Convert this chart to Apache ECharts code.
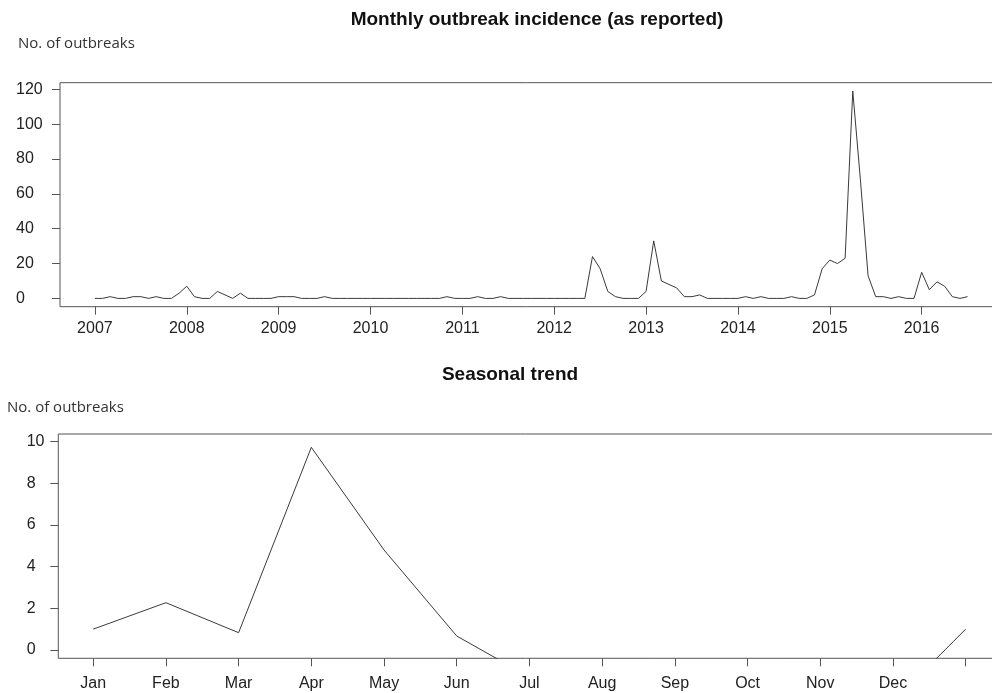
<!DOCTYPE html>
<html>
<head>
<meta charset="utf-8">
<title>Outbreak incidence</title>
<script src="https://cdn.jsdelivr.net/npm/echarts@6/dist/echarts.min.js"></script>
<style>
  html, body { margin: 0; padding: 0; background: #fff; }
  #chart { width: 992px; height: 693px; }
</style>
</head>
<body>
<div id="chart"></div>
<script>
// 月度数据：2007年1月起，共115个月
const startYear = 2007;
const monthlyOutbreaks = [
  0, 0, 1, 0, 0, 1, 1, 0, 1, 0, 0, 3,        // 2007
  7, 1, 0, 0, 4, 2, 0, 3, 0, 0, 0, 0,        // 2008
  1, 1, 1, 0, 0, 0, 1, 0, 0, 0, 0, 0,        // 2009
  0, 0, 0, 0, 0, 0, 0, 0, 0, 0, 1, 0,        // 2010
  0, 0, 1, 0, 0, 1, 0, 0, 0, 0, 0, 0,        // 2011
  0, 0, 0, 0, 0, 24, 17, 4, 1, 0, 0, 0,      // 2012
  4, 33, 10, 8, 6, 1, 1, 2, 0, 0, 0, 0,      // 2013
  0, 1, 0, 1, 0, 0, 0, 1, 0, 0, 2, 17,       // 2014
  22, 20, 23, 119, 68, 13, 1, 1, 0, 1, 0, 0, // 2015
  15, 5, 9.5, 7, 1, 0, 1                     // 2016
];
const yearTicks = [2007, 2008, 2009, 2010, 2011, 2012, 2013, 2014, 2015, 2016];
const topYTicks = [0, 20, 40, 60, 80, 100, 120];

// 季节趋势（第13个点回到1月）
const monthLabels = ["Jan", "Feb", "Mar", "Apr", "May", "Jun", "Jul", "Aug", "Sep", "Oct", "Nov", "Dec", ""];
const seasonalValues = [1.0, 2.27, 0.83, 9.73, 4.8, 0.67, -1.3, -2.2, -2.6, -2.8, -2.7, -2.5, 1.0];
const bottomYTicks = [0, 2, 4, 6, 8, 10];

const chart = echarts.init(document.getElementById("chart"));

const topData = monthlyOutbreaks.map((v, i) => [startYear + i / 12, v]);
const seasonalData = seasonalValues.map((v, i) => [i + 1, v]);
const monthPositions = monthLabels.map((m, i) => i + 1);

const axisFont = { fontFamily: "Liberation Sans", fontSize: 16, color: "#222" };
const tickStyle = { show: true, inside: false, length: 8, lineStyle: { color: "#555", width: 1 } };

const option = {
  animation: false,
  backgroundColor: "#fff",
  graphic: [
    {
      type: "text", x: 537, y: 20,
      style: { text: "Monthly outbreak incidence (as reported)", font: "bold 19px 'Liberation Sans'", fill: "#111", align: "center", verticalAlign: "middle" },
    },
    {
      type: "text", x: 18, y: 44,
      style: { text: "No. of outbreaks", font: "15px 'Open Sans'", fill: "#333", align: "left", verticalAlign: "middle" },
    },
    {
      type: "text", x: 510, y: 375,
      style: { text: "Seasonal trend", font: "bold 19px 'Liberation Sans'", fill: "#111", align: "center", verticalAlign: "middle" },
    },
    {
      type: "text", x: 7, y: 408,
      style: { text: "No. of outbreaks", font: "15px 'Open Sans'", fill: "#333", align: "left", verticalAlign: "middle" },
    },
  ],
  grid: [
    { left: 60, top: 82.7, width: 942.5, height: 224, show: true, borderColor: "#555", borderWidth: 1, outerBoundsMode: "none" },
    { left: 58.3, top: 434, width: 942.3, height: 224.3, show: true, borderColor: "#555", borderWidth: 1, outerBoundsMode: "none" },
  ],
  xAxis: [
    {
      type: "value", gridIndex: 0, min: 2006.62, max: 2016.88,
      axisLine: { show: false, onZero: false },
      axisTick: Object.assign({ customValues: yearTicks }, tickStyle),
      axisLabel: Object.assign({ customValues: yearTicks, margin: 14, formatter: (v) => String(v) }, axisFont),
      splitLine: { show: false },
    },
    {
      type: "value", gridIndex: 1, min: 0.52, max: 13.48,
      axisLine: { show: false, onZero: false },
      axisTick: Object.assign({ customValues: monthPositions }, tickStyle),
      axisLabel: Object.assign({ customValues: monthPositions, margin: 17, formatter: (v) => monthLabels[Math.round(v) - 1] || "" }, axisFont),
      splitLine: { show: false },
    },
  ],
  yAxis: [
    {
      type: "value", gridIndex: 0, min: -4.76, max: 123.76,
      axisLine: { show: false, onZero: false },
      axisTick: Object.assign({ customValues: topYTicks }, tickStyle),
      axisLabel: Object.assign({ customValues: topYTicks, margin: 44, align: "left", formatter: (v) => String(v) }, axisFont),
      splitLine: { show: false },
    },
    {
      type: "value", gridIndex: 1, min: -0.4, max: 10.37,
      axisLine: { show: false, onZero: false },
      axisTick: Object.assign({ customValues: bottomYTicks }, tickStyle),
      axisLabel: Object.assign({ customValues: bottomYTicks, margin: 31.6, align: "left", formatter: (v) => String(v) }, axisFont),
      splitLine: { show: false },
    },
  ],
  series: [
    {
      type: "line", xAxisIndex: 0, yAxisIndex: 0, data: topData,
      symbol: "none", clip: true,
      lineStyle: { color: "#3a3a3a", width: 1 },
    },
    {
      type: "line", xAxisIndex: 1, yAxisIndex: 1, data: seasonalData,
      symbol: "none", clip: true,
      lineStyle: { color: "#3a3a3a", width: 1 },
    },
  ],
};

chart.setOption(option);
</script>
</body>
</html>
